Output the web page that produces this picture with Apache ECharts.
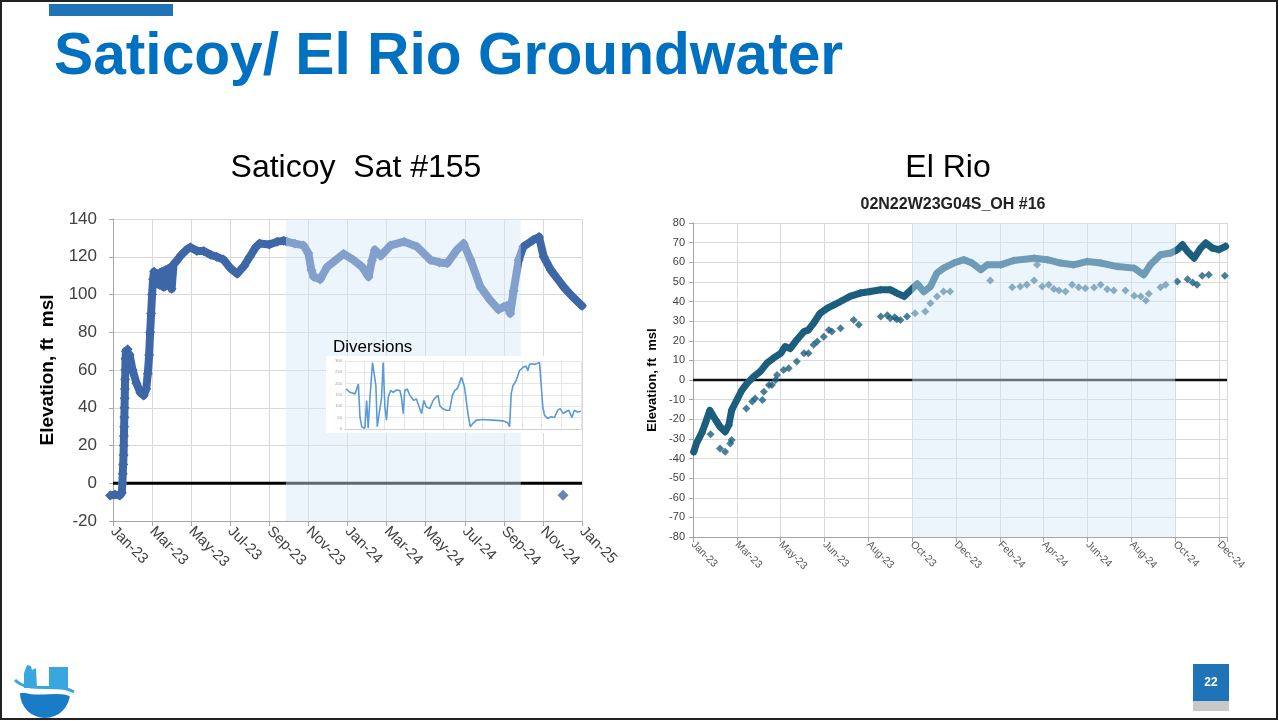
<!DOCTYPE html>
<html><head><meta charset="utf-8">
<script src="https://cdn.jsdelivr.net/npm/echarts@6/dist/echarts.min.js"></script>
<style>
html,body{margin:0;padding:0;background:#fff;overflow:hidden}
#main{position:absolute;left:0;top:0;width:1279px;height:721px}
#inset{position:absolute;left:326px;top:356px;width:256px;height:77px;background:#fff}
</style></head>
<body><div id="main"></div><div id="inset"></div>
<script>
// ---------- DATA ----------
const satLabels = ['Jan-23','Mar-23','May-23','Jul-23','Sep-23','Nov-23','Jan-24','Mar-24','May-24','Jul-24','Sep-24','Nov-24','Jan-25'];
// [months since Jan-2023, elevation ft msl]
const satData = [[-0.15,-6.5],[0.1,-6],[0.35,-6.5],[0.45,-5],[0.48,0],[0.5,5],[0.52,10],[0.54,15],[0.55,20],[0.56,25],[0.57,30],[0.58,35],[0.59,40],[0.6,45],[0.61,50],[0.62,55],[0.63,60],[0.64,66],[0.66,70],[0.75,71],[0.85,68],[1.0,60],[1.2,53],[1.4,48],[1.57,46.5],[1.7,50],[1.78,58],[1.85,68],[1.9,80],[1.95,90],[2.0,100],[2.05,108],[2.1,112],[2.2,106],[2.3,111],[2.4,105],[2.5,112],[2.6,104],[2.7,113],[2.8,105],[2.9,114],[3.0,103],[3.1,116],[3.27,118],[3.5,121],[3.8,124],[3.96,125],[4.3,123],[4.64,123],[5.0,121],[5.3,120],[5.65,118.5],[6.0,114],[6.35,111],[6.7,115],[7.0,120],[7.3,125],[7.5,127],[8.0,126.5],[8.4,128],[8.73,128.5],[8.9,128],[9.3,127],[9.75,126],[10.0,121.8],[10.15,113],[10.27,109.4],[10.6,108],[10.95,114.5],[11.3,117.4],[11.8,121.5],[12.3,118.3],[12.74,114.7],[13.08,109.4],[13.25,118],[13.4,123.6],[13.7,120.5],[14.2,126],[14.9,128],[15.56,125.3],[16.24,118.3],[16.7,117],[17.1,116.5],[17.6,123.6],[17.94,127],[18.3,118.3],[18.8,104],[19.3,97],[19.73,92],[20.0,93.5],[20.16,94],[20.33,90],[20.5,102],[20.76,118.3],[21.0,125.3],[21.5,128.9],[21.8,130.5],[22.04,120],[22.4,113],[23.06,104],[23.5,99],[24.0,94]];
const satOutlier = [[23.03,-6.4]];
const satShade = [8.85, 20.87];

const divX = [0.05,0.25,0.51,0.59,0.68,0.76,0.85,1.01,1.10,1.18,1.27,1.40,1.49,1.57,1.64,1.74,1.86,1.94,2.03,2.11,2.20,2.32,2.45,2.62,2.79,2.87,2.96,3.04,3.16,3.30,3.38,3.50,3.63,3.77,3.89,4.01,4.14,4.31,4.48,4.61,4.73,4.82,4.95,5.15,5.32,5.46,5.58,5.70,5.80,5.92,6.00,6.08,6.25,6.37,6.51,6.68,7.01,7.52,8.03,8.28,8.37,8.45,8.54,8.70,8.87,9.04,9.21,9.30,9.38,9.52,9.63,9.72,9.89,9.97,10.06,10.14,10.31,10.48,10.65,10.82,10.94,11.10,11.21,11.37,11.54,11.66,11.83,12.0];
const divY = [177,162,155,148,198,54,10,3,126,3,140,293,285,191,10,3,140,293,97,39,140,170,162,172,170,140,68,170,177,148,140,126,133,97,68,126,97,90,126,140,148,104,90,83,83,148,170,177,198,228,235,184,68,10,25,39,42,39,36,28,10,155,191,213,257,271,278,257,285,288,285,293,293,293,97,61,46,54,51,83,90,68,75,83,51,83,75,78];

const rioLabels = ['Jan-23','Mar-23','May-23','Jun-23','Aug-23','Oct-23','Dec-23','Feb-24','Apr-24','Jun-24','Aug-24','Oct-24','Dec-24'];
// [days since 1-Jan-2023, elevation ft msl]
const rioMain = [[1,-36.6],[5,-32],[12,-27],[17,-22],[23,-15.5],[31,-20.4],[37,-23.8],[44,-26.4],[49,-23],[53,-15.3],[60,-10.2],[67,-5.1],[74,-1.7],[83,1.7],[92,4.3],[101,8.5],[110,11.1],[120,13.6],[126,17],[133,16],[142,20.4],[152,24.7],[158,25.5],[165,28.9],[174,34],[184,36.6],[193,38.3],[202,40],[215,42.6],[229,44.3],[243,45.1],[257,46],[270,46],[279,44.3],[289,42.6],[300,46.5],[307,49],[316,45],[325,47.6],[334,54.5],[343,57],[357,59.6],[371,61.3],[382,59.6],[394,56.2],[403,58.7],[421,58.7],[439,60.9],[467,62.1],[485,61.3],[503,59.6],[521,58.7],[540,60.4],[558,59.6],[581,57.8],[604,57],[617,53.6],[626,58.7],[640,63.8],[654,64.7],[663,66.4],[670,68.9],[677,65.5],[686,62.1],[695,67.2],[702,69.8],[711,67.2],[720,66.4],[729,68.1]];
const rioSparse = [[24,-27.7],[37,-34.9],[44,-36.6],[51,-32.3],[53,-30.6],[73,-14.5],[81,-11],[85,-9.4],[95,-10.2],[97,-6],[104,-2.6],[108,-2.6],[113,0],[115,2.6],[124,5.1],[131,6],[142,9.4],[152,13.6],[158,13.6],[165,17.9],[170,19.6],[179,22.1],[186,25.5],[190,24.7],[202,26.4],[220,30.6],[227,28.1],[257,32.3],[266,33],[270,31.5],[276,32],[279,31],[284,30.6],[293,32.3],[304,34],[318,34.9],[325,39.1],[334,42.5],[343,45.1],[352,45.1],[407,50.7],[437,47.3],[448,47.6],[457,48.5],[467,50.7],[471,58.7],[478,47.6],[487,48.5],[494,46.4],[501,45.6],[510,45.1],[519,48.5],[528,47.3],[537,46.8],[549,47.1],[558,48.5],[567,46.3],[576,45.6],[592,45.6],[604,42.9],[613,42.5],[620,40.5],[624,43.9],[640,47.3],[647,48.5],[663,50.2],[677,51.4],[684,49.7],[690,48.5],[697,53.1],[706,53.6],[728,53.1]];
const rioShade = [300, 660];

// ---------- STYLE ----------
const FONT = '"Liberation Sans", Arial, sans-serif';
const SAT_C = '#3e67a7';
const RIO_C = '#1b5e7e';
const SHADE = 'rgba(212,230,248,0.45)';
const GRIDC = '#d9d9d9';
const AXC = '#a6a6a6';

function xAx(grid, min, max, interval, labels, step, fs, margin, color){
  return {gridIndex:grid, type:'value', min:min, max:max, interval:interval,
    axisLine:{show:true, onZero:false, lineStyle:{color:AXC, width:1}},
    axisTick:{show:true, length:5, lineStyle:{color:AXC}},
    axisLabel:{rotate:-45, margin:margin, fontSize:fs, color:color, fontFamily:FONT, showMinLabel:true, showMaxLabel:true,
      formatter:v=>{ const i=Math.round(v/step); return (Math.abs(v-i*step)<1e-6 && labels[i])?labels[i]:''; }},
    splitLine:{show:true, lineStyle:{color:GRIDC, width:1}}};
}
function yAx(grid, min, max, interval, fs, margin, name, nfs, ngap){
  return {gridIndex:grid, type:'value', min:min, max:max, interval:interval,
    axisLine:{show:true, onZero:false, lineStyle:{color:AXC, width:1}},
    axisTick:{show:true, length:4, lineStyle:{color:AXC}},
    axisLabel:{fontSize:fs, margin:margin, color:'#404040', fontFamily:FONT},
    splitLine:{show:true, lineStyle:{color:GRIDC, width:1}},
    name:name, nameLocation:'middle', nameGap:ngap, nameRotate:90,
    nameTextStyle:{fontSize:nfs, fontWeight:'bold', color:'#000', fontFamily:FONT}};
}

const chart = echarts.init(document.getElementById('main'), null, {renderer:'canvas'});
chart.setOption({
  animation:false,
  backgroundColor:'#ffffff',
  grid:[{left:113, top:219, width:469, height:302, outerBoundsMode:'none'},{left:693, top:223, width:534, height:314, outerBoundsMode:'none'}],
  xAxis:[xAx(0,0,24,2,satLabels,2,15,8,'#404040'), xAx(1,0,731,60,rioLabels,60,10.5,6,'#595959')],
  yAxis:[yAx(0,-20,140,20,17,16,'Elevation, ft  msl',19,56), yAx(1,-80,80,10,11,8,'Elevation, ft  msl',13,34)],
  series:[
    {type:'line', xAxisIndex:0, yAxisIndex:0, data:[[0,0],[24,0]], symbol:'none', silent:true, lineStyle:{color:'#000', width:3}, z:3},
    {type:'line', xAxisIndex:0, yAxisIndex:0, data:satData, symbol:'diamond', symbolSize:10, showSymbol:true, showAllSymbol:true, clip:false,
      lineStyle:{color:SAT_C, width:8, join:'round', cap:'round'}, itemStyle:{color:SAT_C}, z:4},
    {type:'scatter', xAxisIndex:0, yAxisIndex:0, data:satOutlier, symbol:'diamond', symbolSize:11, itemStyle:{color:SAT_C}, z:4},
    {type:'line', xAxisIndex:0, yAxisIndex:0, data:[[0,0]], symbol:'none', lineStyle:{opacity:0}, silent:true, z:10,
      markArea:{silent:true, z:10, itemStyle:{color:SHADE}, data:[[{coord:[satShade[0],-20]},{coord:[satShade[1],140]}]]}},

    {type:'line', xAxisIndex:1, yAxisIndex:1, data:[[0,0],[731,0]], symbol:'none', silent:true, lineStyle:{color:'#111', width:2.5}, z:3},
    {type:'line', xAxisIndex:1, yAxisIndex:1, data:rioMain, symbol:'diamond', symbolSize:8, showSymbol:true, showAllSymbol:true, clip:false,
      lineStyle:{color:RIO_C, width:7, join:'round', cap:'round'}, itemStyle:{color:RIO_C}, z:4},
    {type:'scatter', xAxisIndex:1, yAxisIndex:1, data:rioSparse, symbol:'diamond', symbolSize:8, itemStyle:{color:RIO_C}, z:4},
    {type:'line', xAxisIndex:1, yAxisIndex:1, data:[[0,0]], symbol:'none', lineStyle:{opacity:0}, silent:true, z:10,
      markArea:{silent:true, z:10, itemStyle:{color:SHADE}, data:[[{coord:[rioShade[0],-80]},{coord:[rioShade[1],80]}]]}}
  ],
  graphic:[
    {type:'rect', shape:{x:1,y:1,width:1276,height:718}, style:{fill:'none', stroke:'#222', lineWidth:2}, z:100},
    {type:'rect', shape:{x:49,y:4,width:124,height:12}, style:{fill:'#1f73b7'}, z:100},
    {type:'text', x:54, y:58, style:{text:'Saticoy/ El Rio Groundwater', fontSize:58.7, fontWeight:'bold', fontFamily:FONT, fill:'#0070c0', align:'left', verticalAlign:'middle'}, z:100},
    {type:'text', x:356, y:168, style:{text:'Saticoy  Sat #155', fontSize:32, fontFamily:FONT, fill:'#000', align:'center', verticalAlign:'middle'}, z:100},
    {type:'text', x:948, y:168, style:{text:'El Rio', fontSize:32, fontFamily:FONT, fill:'#000', align:'center', verticalAlign:'middle'}, z:100},
    {type:'text', x:953, y:205, style:{text:'02N22W23G04S_OH #16', fontSize:16, fontWeight:'bold', fontFamily:FONT, fill:'#222', align:'center', verticalAlign:'middle'}, z:100},
    {type:'text', x:333, y:347, style:{text:'Diversions', fontSize:17, fontFamily:FONT, fill:'#000', align:'left', verticalAlign:'middle'}, z:100},
    // logo
    {type:'sector', shape:{cx:45, cy:693, r:25, r0:0, startAngle:0, endAngle:Math.PI, clockwise:true}, style:{fill:'#1a7cc7'}, z:100},
    {type:'rect', shape:{x:49,y:667,width:19,height:21}, style:{fill:'#3aa6e0'}, z:100},
    {type:'polygon', shape:{points:[[24,688],[24,673],[27,665],[31,666],[32,670],[36,668],[37,688]]}, style:{fill:'#3aa6e0'}, z:100},
    {type:'bezierCurve', shape:{x1:15,y1:680,cpx1:28,cpy1:694,cpx2:58,cpy2:682,x2:74,y2:692}, style:{fill:'none', stroke:'#3aa6e0', lineWidth:3}, z:101},
    {type:'bezierCurve', shape:{x1:18,y1:688,cpx1:32,cpy1:699,cpx2:60,cpy2:688,x2:72,y2:696}, style:{fill:'none', stroke:'#ffffff', lineWidth:2.5}, z:101},
    // page number
    {type:'rect', shape:{x:1193,y:664,width:36,height:37}, style:{fill:'#1f73b7'}, z:100},
    {type:'rect', shape:{x:1193,y:701,width:36,height:10}, style:{fill:'#c8c8c8'}, z:100},
    {type:'text', x:1211, y:683, style:{text:'22', fontSize:12, fontWeight:'bold', fontFamily:FONT, fill:'#fff', align:'center', verticalAlign:'middle'}, z:101}
  ]
});

const inset = echarts.init(document.getElementById('inset'), null, {renderer:'canvas'});
inset.setOption({
  animation:false,
  backgroundColor:'#ffffff',
  grid:{left:19, right:1, top:5, bottom:4, outerBoundsMode:'none'},
  xAxis:{type:'value', min:0, max:12, interval:1, axisLabel:{show:false}, axisTick:{show:false},
    axisLine:{show:true, onZero:false, lineStyle:{color:'#d0d0d0'}}, splitLine:{show:true, lineStyle:{color:'#e6e6e6'}}},
  yAxis:{type:'value', min:0, max:300, interval:50, axisLabel:{fontSize:4, margin:3, color:'#9a9a9a', fontFamily:FONT},
    axisTick:{show:false}, axisLine:{show:false}, splitLine:{show:true, lineStyle:{color:'#e6e6e6'}},
    name:'Discharge (cfs)', nameLocation:'middle', nameGap:11, nameTextStyle:{fontSize:4, color:'#9a9a9a', fontFamily:FONT}},
  series:[{type:'line', data:divX.map((x,i)=>[x,divY[i]]), symbol:'none', lineStyle:{color:'#5b9bd5', width:1.6}}]
});
</script>
</body></html>
